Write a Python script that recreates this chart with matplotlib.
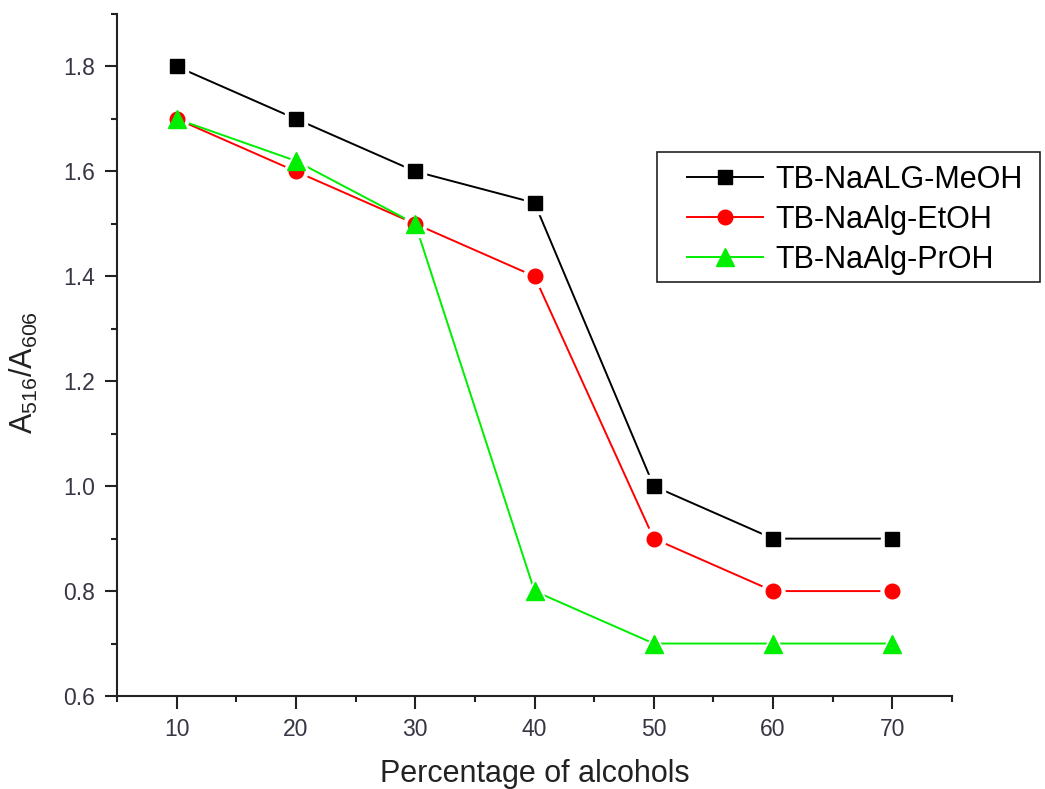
import matplotlib
matplotlib.use("Agg")
import matplotlib.pyplot as plt
from matplotlib.ticker import MultipleLocator
from matplotlib.patches import Rectangle

plt.rcParams['font.family'] = ['Liberation Sans', 'DejaVu Sans']
plt.rcParams['mathtext.default'] = 'regular'

# Alcohol content (%) and absorbance ratio A516/A606 for each solvent series
percent = [10, 20, 30, 40, 50, 60, 70]
meoh = [1.80, 1.70, 1.60, 1.54, 1.00, 0.90, 0.90]
etoh = [1.70, 1.60, 1.50, 1.40, 0.90, 0.80, 0.80]
proh = [1.70, 1.62, 1.50, 0.80, 0.70, 0.70, 0.70]
labels = ['TB-NaALG-MeOH', 'TB-NaAlg-EtOH', 'TB-NaAlg-PrOH']

W, H = 1045, 789
fig = plt.figure(figsize=(W / 100, H / 100), dpi=100)
ax = fig.add_axes([117 / W, 1 - 696 / H, (952 - 117) / W, (696 - 14) / H])

styles = [
    (meoh, 'black', 's', 9.5),
    (etoh, '#ff0000', 'o', 10.5),
    (proh, '#00ee00', '^', 13),
]
handles = []
for (vals, col, mk, ms), lab in zip(styles, labels):
    ax.plot(percent, vals, '-', color=col, lw=1.4, zorder=2)
    # white halo gives the small gap between the line and each symbol
    ax.plot(percent, vals, ls='none', marker=mk, ms=ms + 6, color='white',
            mec='white', zorder=3)
for (vals, col, mk, ms), lab in zip(styles, labels):
    ax.plot(percent, vals, ls='none', marker=mk, ms=ms, color=col, mec=col, zorder=4)
    handles.append(plt.Line2D([], [], color=col, lw=1.4, marker=mk, ms=ms, mec=col))

ax.set_xlim(5, 75)
ax.set_ylim(0.6, 1.9)
ax.xaxis.set_minor_locator(MultipleLocator(5))
ax.yaxis.set_minor_locator(MultipleLocator(0.1))
ax.set_xticks([10, 20, 30, 40, 50, 60, 70])
ax.set_yticks([0.6, 0.8, 1.0, 1.2, 1.4, 1.6, 1.8])
ax.set_yticklabels(['0.6', '0.8', '1.0', '1.2', '1.4', '1.6', '1.8'])

for s in ['top', 'right']:
    ax.spines[s].set_visible(False)
for s in ['left', 'bottom']:
    ax.spines[s].set_linewidth(1.5)
    ax.spines[s].set_color('#222222')

ax.tick_params(axis='both', which='major', direction='out', length=9, width=1.5,
               color='#222222', labelsize=16.5, labelcolor='#363644')
ax.tick_params(axis='both', which='minor', direction='out', length=4.5, width=1.5,
               color='#222222')
ax.tick_params(axis='y', which='major', pad=7)
ax.tick_params(axis='x', which='major', pad=7)

ax.set_xlabel('Percentage of alcohols', fontsize=22, color='#222222')
ax.xaxis.set_label_coords(0.5, -(759 - 696) / 682)
ax.set_ylabel('$A_{516}/A_{606}$', fontsize=22, color='#222222')
ax.yaxis.set_label_coords(-(117 - 40) / 835, 0.475)

# legend box drawn as a plain rectangle, entries placed inside it
fig.patches.append(Rectangle((657 / W, 1 - 282 / H), (1040 - 657) / W, (282 - 152) / H,
                             transform=fig.transFigure, fill=False,
                             edgecolor='#222222', linewidth=1.2, zorder=5))
leg = fig.legend(handles, labels, loc='upper left',
                 bbox_to_anchor=(687 / W, 1 - 165 / H), bbox_transform=fig.transFigure,
                 fontsize=22, frameon=False, borderaxespad=0, borderpad=0,
                 handlelength=2.5, handletextpad=0.4, labelspacing=0.33)

fig.savefig('out.png', dpi=100)
